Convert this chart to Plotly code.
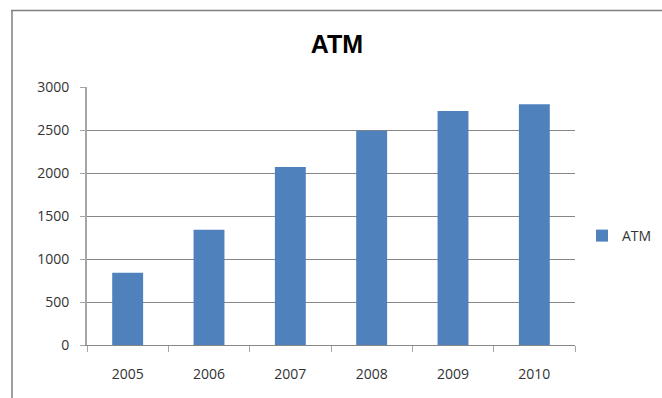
import plotly.graph_objects as go

years = ["2005", "2006", "2007", "2008", "2009", "2010"]
atm = [840, 1340, 2070, 2490, 2720, 2800]
y_ticks = [0, 500, 1000, 1500, 2000, 2500, 3000]

W, H = 662, 398
L, R, T, B = 87, 87, 87, 53
pw, ph = W - L - R, H - T - B

def px_x(p):
    return (p - L) / pw

def px_y(p):
    return (H - B - p) / ph

fig = go.Figure()
fig.add_trace(go.Bar(x=years, y=atm, name="ATM", marker=dict(color="#4F81BD", line=dict(width=0)),
                     showlegend=True))

fig.update_layout(
    width=W, height=H,
    margin=dict(l=L, r=R, t=T, b=B, autoexpand=False),
    paper_bgcolor="white", plot_bgcolor="white",
    font=dict(family="Open Sans, Liberation Sans, Arial, sans-serif", size=14, color="#333333"),
    title=dict(text="<b>ATM</b>", x=px_x(337), xref="paper", xanchor="center",
               y=1 - 44 / H, yanchor="middle",
               font=dict(size=25, color="black", family="Liberation Sans, Arial, sans-serif")),
    bargap=0.62,
    showlegend=True,
    legend=dict(x=px_x(582), y=px_y(236), xanchor="left", yanchor="middle",
                font=dict(size=14, color="#333333"), itemwidth=30, bgcolor="rgba(0,0,0,0)"),
    xaxis=dict(type="category", showgrid=False, showline=True, linecolor="#868686", linewidth=1,
               ticks="outside", tickson="boundaries", ticklen=6, tickcolor="#A6A6A6",
               ticklabelstandoff=16, zeroline=False),
    yaxis=dict(range=[0, 3000], tickvals=y_ticks, showgrid=True, gridcolor="#868686", gridwidth=1,
               showline=True, linecolor="#A6A6A6", linewidth=2, ticks="outside", ticklen=5,
               tickcolor="#A6A6A6", ticklabelstandoff=8, zeroline=False),
)

# outer chart border (left and top visible)
fig.add_shape(type="line", xref="paper", yref="paper", x0=px_x(12), x1=px_x(12),
              y0=px_y(10), y1=px_y(400), line=dict(color="#7F7F7F", width=1.5))
fig.add_shape(type="line", xref="paper", yref="paper", x0=px_x(11), x1=px_x(664),
              y0=px_y(10.5), y1=px_y(10.5), line=dict(color="#7F7F7F", width=1.5))

fig.write_html("out.html")
